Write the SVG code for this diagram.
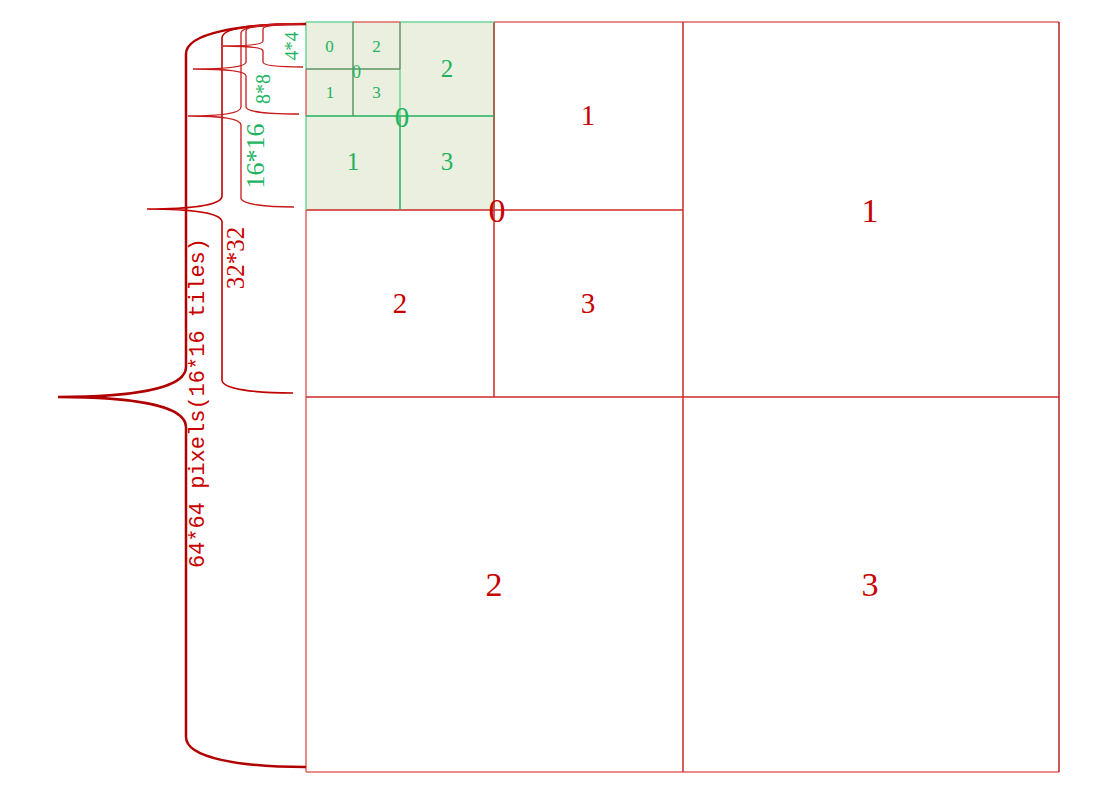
<svg xmlns="http://www.w3.org/2000/svg" width="1095" height="787" viewBox="0 0 1095 787">
<style>
.bg{fill:#ffffff}
.rl{stroke:#e06464;stroke-width:1.5;fill:none}
.rm{stroke:#cc2a2a;stroke-width:1.5;fill:none}
.rd{stroke:#a80000;stroke-width:1.3;fill:none}
.br{stroke:#a6694c;stroke-width:2;fill:none}
.gl{stroke:#6fd39a;stroke-width:1.5;fill:none}
.gm{stroke:#22b35e;stroke-width:1.5;fill:none}
.gd{stroke:#5f9364;stroke-width:1.5;fill:none}
.gf{fill:#ebefdf;stroke:none}
.b64{stroke:#b00000;stroke-width:2.5;fill:none}
.b32{stroke:#c00000;stroke-width:1.6;fill:none}
.bs{stroke:#c81a1a;stroke-width:1.3;fill:none}
.tr{fill:#c80000;font-family:"Liberation Serif","DejaVu Serif",serif;text-anchor:middle}
.tg{fill:#22b35e;font-family:"Liberation Serif","DejaVu Serif",serif;text-anchor:middle}
.tm{fill:#c80000;font-family:"Liberation Mono","DejaVu Sans Mono",monospace;text-anchor:middle}
</style>
<rect class="bg" x="0" y="0" width="1095" height="787"/>

<g id="tile-0-0-fill">
<rect class="gf" x="306" y="22" width="188" height="188"/>
</g>

<g id="grid">
<!-- outer red frame and level-1 splits -->
<line class="rl" x1="494" y1="22" x2="1059" y2="22"/>
<line class="rl" x1="306" y1="210" x2="306" y2="772"/>
<line class="rl" x1="306" y1="772" x2="1059" y2="772"/>
<line class="rd" x1="1059" y1="22" x2="1059" y2="772"/>
<line class="rm" x1="683" y1="22" x2="683" y2="772"/>
<line class="rm" x1="306" y1="397" x2="1059" y2="397"/>
<!-- level-2 splits -->
<line class="rm" x1="306" y1="210" x2="683" y2="210"/>
<line class="rm" x1="494" y1="210" x2="494" y2="397"/>
<line class="br" x1="494" y1="22" x2="494" y2="210"/>
<!-- green 16x16 block -->
<line class="gl" x1="306" y1="22" x2="353" y2="22"/>
<line class="rl" x1="353" y1="22" x2="400" y2="22"/>
<line class="gl" x1="400" y1="22" x2="494" y2="22"/>
<line class="gl" x1="306" y1="22" x2="306" y2="69"/>
<line class="rl" x1="306" y1="69" x2="306" y2="116"/>
<line class="gl" x1="306" y1="116" x2="306" y2="210"/>
<line class="gm" x1="306" y1="116" x2="494" y2="116"/>
<line class="gl" x1="400" y1="69" x2="400" y2="116"/>
<line class="gm" x1="400" y1="116" x2="400" y2="210"/>
<!-- 8x8 block splits -->
<line class="gd" x1="353" y1="22" x2="353" y2="116"/>
<line class="gd" x1="306" y1="69" x2="400" y2="69"/>
<line class="gd" x1="400" y1="22" x2="400" y2="69"/>
</g>

<g id="braces">
<path id="brace-64" class="b64" d="M306,24 C240,24 186,33 186,54 L186,367 C186,389 130,397 58,397 C130,397 186,405 186,427 L186,737 C186,758 240,767 306,767"/>
<path id="brace-32" class="b32" d="M293,24 C254,24 222,28 222,38 L222,196 C222,205.5 189,209 147,209 C189,209 222,212.5 222,222 L222,380 C222,389 254,393 293,393"/>
<path id="brace-16" class="bs" d="M294,24 C265,24 241,27 241,33 L241,107 C241,113.5 218,116 188,116 C218,116 241,118.5 241,125 L241,198 C241,204 265,207 294,207"/>
<path id="brace-8" class="bs" d="M299,24 C270,24 246,26 246,31 L246,62 C246,67 223,69 193,69 C223,69 246,71 246,76 L246,107 C246,112 270,114 299,114"/>
<path id="brace-4" class="bs" d="M303,24 C281,24 263,25.5 263,29 L263,41 C263,44.5 245,46 223,46 C245,46 263,47.5 263,51 L263,62 C263,65.5 281,67 303,67"/>
</g>

<g id="brace-labels">
<text class="tg" font-size="19" transform="translate(298,46) rotate(-90)">4*4</text>
<text class="tg" font-size="20" transform="translate(270,89) rotate(-90)">8*8</text>
<text class="tg" font-size="26" transform="translate(264,156) rotate(-90)">16*16</text>
<text class="tr" font-size="25" transform="translate(244,258) rotate(-90)">32*32</text>
<text class="tm" font-size="22" transform="translate(204,403) rotate(-90)">64*64 pixels(16*16 tiles)</text>
</g>

<g id="level1">
<text id="q0" class="tr" font-size="34" x="497" y="221.5">0</text>
<text id="q1" class="tr" font-size="34" x="870" y="221.5">1</text>
<text id="q2" class="tr" font-size="34" x="494" y="595.5">2</text>
<text id="q3" class="tr" font-size="34" x="870" y="595.5">3</text>
</g>

<g id="level2">
<text id="q00" class="tg" font-size="29" x="402" y="127">0</text>
<text id="q01" class="tr" font-size="29" x="588" y="125">1</text>
<text id="q02" class="tr" font-size="29" x="400" y="313">2</text>
<text id="q03" class="tr" font-size="29" x="588" y="313">3</text>
</g>

<g id="level3">
<text id="q000" class="tg" font-size="18" x="356.5" y="78">0</text>
<text id="q001" class="tg" font-size="25" x="353" y="170">1</text>
<text id="q002" class="tg" font-size="25" x="447" y="77">2</text>
<text id="q003" class="tg" font-size="25" x="447" y="170">3</text>
</g>

<g id="level4">
<text id="q0000" class="tg" font-size="17" x="329.5" y="52">0</text>
<text id="q0002" class="tg" font-size="17" x="376.5" y="52">2</text>
<text id="q0001" class="tg" font-size="17" x="330" y="98">1</text>
<text id="q0003" class="tg" font-size="17" x="376.5" y="98">3</text>
</g>
</svg>
